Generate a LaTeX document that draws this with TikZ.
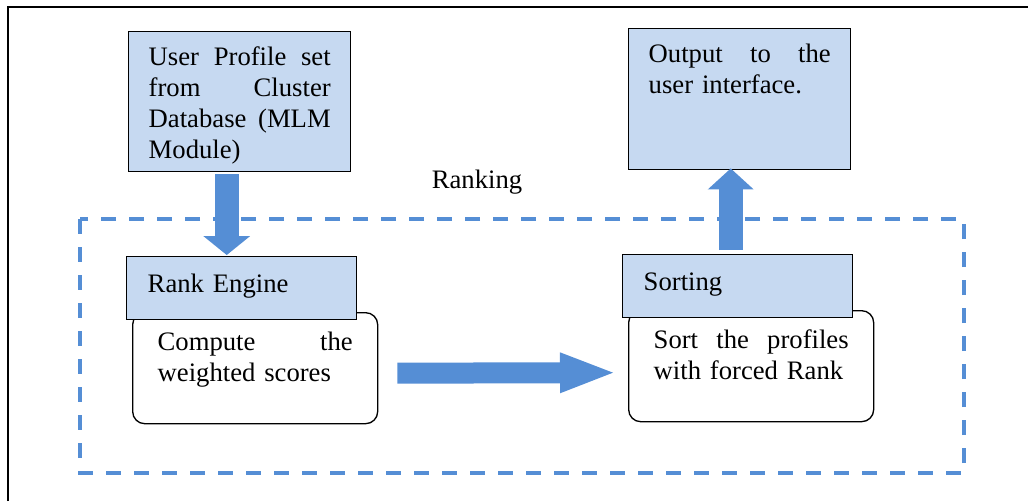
\documentclass[tikz,border=0pt]{standalone}
\usepackage{fontspec}
\setmainfont{Liberation Serif}
\usetikzlibrary{arrows.meta,calc}
\definecolor{boxblue}{HTML}{C6D9F1}
\definecolor{arrowblue}{HTML}{558ED5}
\newcommand{\jline}[1]{\makebox[\hsize][s]{\spaceskip=.25em plus 1fil\relax #1}}
\begin{document}
\begin{tikzpicture}[x=0.75pt,y=-0.75pt]
\tikzstyle{every node}=[font=\fontsize{20}{23.3}\selectfont,align=left,text height=14pt]
\tikzstyle{bluebox}=[draw,line width=1.1pt,fill=boxblue,anchor=north west]
\tikzstyle{roundbox}=[draw,line width=1pt,fill=white,rounded corners=9pt,anchor=north west,inner xsep=18.75pt,inner ysep=14.5pt,text width=146.25pt,text depth=40.25pt]
\tikzstyle{bigarrow}=[arrowblue,line width=18pt]
\useasboundingbox (0,0) rectangle (1028,501);
\draw[line width=1.5pt] (8,501) -- (8,7) -- (1028,7);
\draw[arrowblue,line width=2.7pt,dash pattern=on 11.25pt off 9.75pt] (80,219) rectangle (964,473);
\node[bluebox,inner xsep=15pt,inner ysep=11.5pt,text width=136.5pt,text depth=68pt] (prof) at (128,31) {\jline{User Profile set}\\\jline{from Cluster}\\\jline{Database (MLM}\\Module)};
\node[bluebox,inner xsep=15pt,inner ysep=11.5pt,text width=136.5pt,text depth=68.75pt] (out) at (628,28) {\jline{Output to the}\\user interface.};
\node[anchor=base] (rankl) at (477,188) {Ranking};
\node[roundbox] (comp) at (132,312) {\jline{Compute the}\\weighted scores};
\node[roundbox] (sortp) at (628,310) {\jline{Sort the profiles}\\with forced Rank};
\node[bluebox,inner xsep=15.75pt,inner ysep=13pt,text width=141pt,text depth=7.25pt] (rank) at (126,256) {Rank Engine};
\node[bluebox,inner xsep=15.75pt,inner ysep=13pt,text width=141pt,text depth=7.25pt] (sortb) at (622,254) {Sorting};
\draw[bigarrow,-{Triangle[width=35.25pt,length=14.25pt,line width=0pt]}] ($(prof.south)+(-13,2)$) -- ($(rank.north)+(-15,-1)$);
\draw[bigarrow,line width=15.75pt,-{Triangle[width=30.75pt,length=39.75pt,line width=0pt]}] ($(comp.east)+(19,5)$) -- ($(sortp.west)+(-15,6.5)$);
\draw[bigarrow,-{Triangle[width=34.5pt,length=15.75pt,line width=0pt]}] ($(sortb.north)+(-7,-4)$) -- ($(out.south)+(-9,-2)$);
\end{tikzpicture}
\end{document}
